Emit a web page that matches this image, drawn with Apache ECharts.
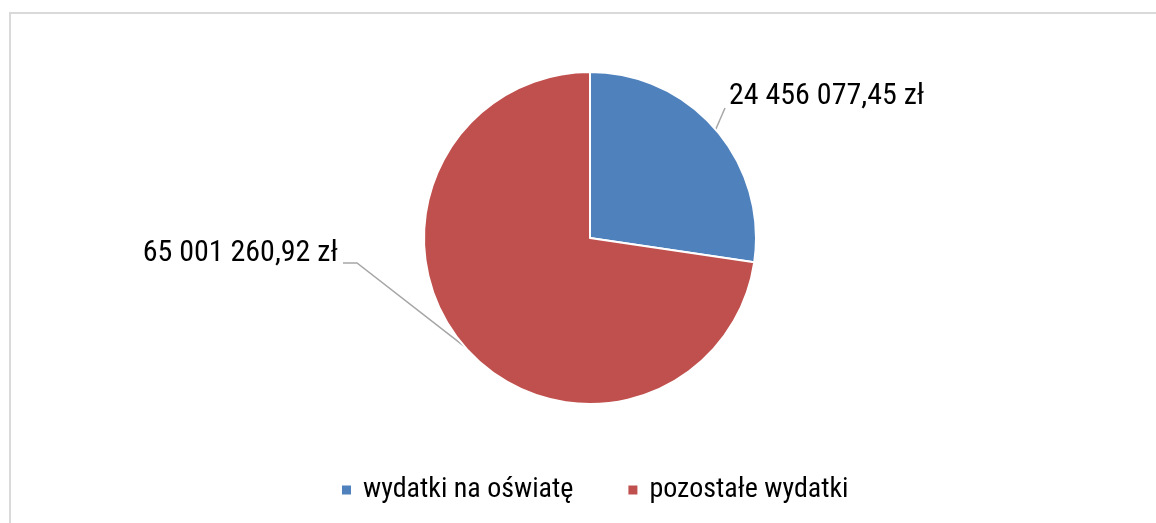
<!DOCTYPE html>
<html>
<head>
<meta charset="utf-8">
<script src="https://cdn.jsdelivr.net/npm/echarts@6/dist/echarts.min.js"></script>
<style>
  html, body { margin: 0; padding: 0; background: #fff; }
  #chart { width: 1156px; height: 523px; }
</style>
</head>
<body>
<div id="chart"></div>
<script>
    // dane z wykresu
    const categories = ['wydatki na oświatę', 'pozostałe wydatki'];
    const values = [24456077.45, 65001260.92];
    const colors = ['#4F81BD', '#C0504D'];

    const FONT = "'Roboto Condensed', 'Liberation Sans', sans-serif";

    // 24456077.45 -> "24 456 077,45 zł"
    function formatPln(v) {
        let parts = v.toFixed(2).split('.');
        let whole = parts[0].replace(/\B(?=(\d{3})+(?!\d))/g, ' ');
        return whole + ',' + parts[1] + ' zł';
    }

    var dom = document.getElementById('chart');
    var myChart = echarts.init(dom, null, { renderer: 'canvas' });

    // where the label texts sit, as in the original
    const labelPos = [
        { x: 729, y: 96, align: 'left', end: [725, 108] },
        { x: 338, y: 253, align: 'right', end: [357, 263], tail: [343, 263] }
    ];

    var option = {
        backgroundColor: '#fff',
        animation: false,
        graphic: [{
            type: 'rect',
            shape: { x: 10, y: 13, width: 2000, height: 2000 },
            style: { fill: 'none', stroke: '#d9d9d9', lineWidth: 2 },
            silent: true
        }],
        legend: {
            top: 471,
            left: 335,
            icon: 'rect',
            itemWidth: 11,
            itemHeight: 11,
            itemGap: 53,
            textStyle: { fontFamily: FONT, fontSize: 28, color: '#000', padding: [0, 0, 0, 6] },
            data: categories
        },
        series: [{
            type: 'pie',
            center: [590, 238],
            radius: 166,
            startAngle: 90,
            clockwise: true,
            itemStyle: { borderColor: '#fff', borderWidth: 2 },
            label: {
                show: true,
                position: 'outside',
                fontFamily: FONT,
                fontSize: 30,
                color: '#000',
                formatter: p => formatPln(p.value)
            },
            labelLine: {
                show: true,
                length: 20,
                length2: 0,
                lineStyle: { color: '#a6a6a6', width: 1.5 }
            },
            labelLayout: function (params) {
                const lp = labelPos[params.dataIndex];
                const p0 = params.labelLinePoints[0];
                const pts = [p0, lp.end];
                if (lp.tail) pts.push(lp.tail);
                return {
                    x: lp.x,
                    y: lp.y,
                    align: lp.align,
                    verticalAlign: 'middle',
                    labelLinePoints: pts
                };
            },
            data: categories.map((c, i) => ({
                name: c,
                value: values[i],
                itemStyle: { color: colors[i] }
            }))
        }]
    };

    myChart.setOption(option, true);
</script>
</body>
</html>
